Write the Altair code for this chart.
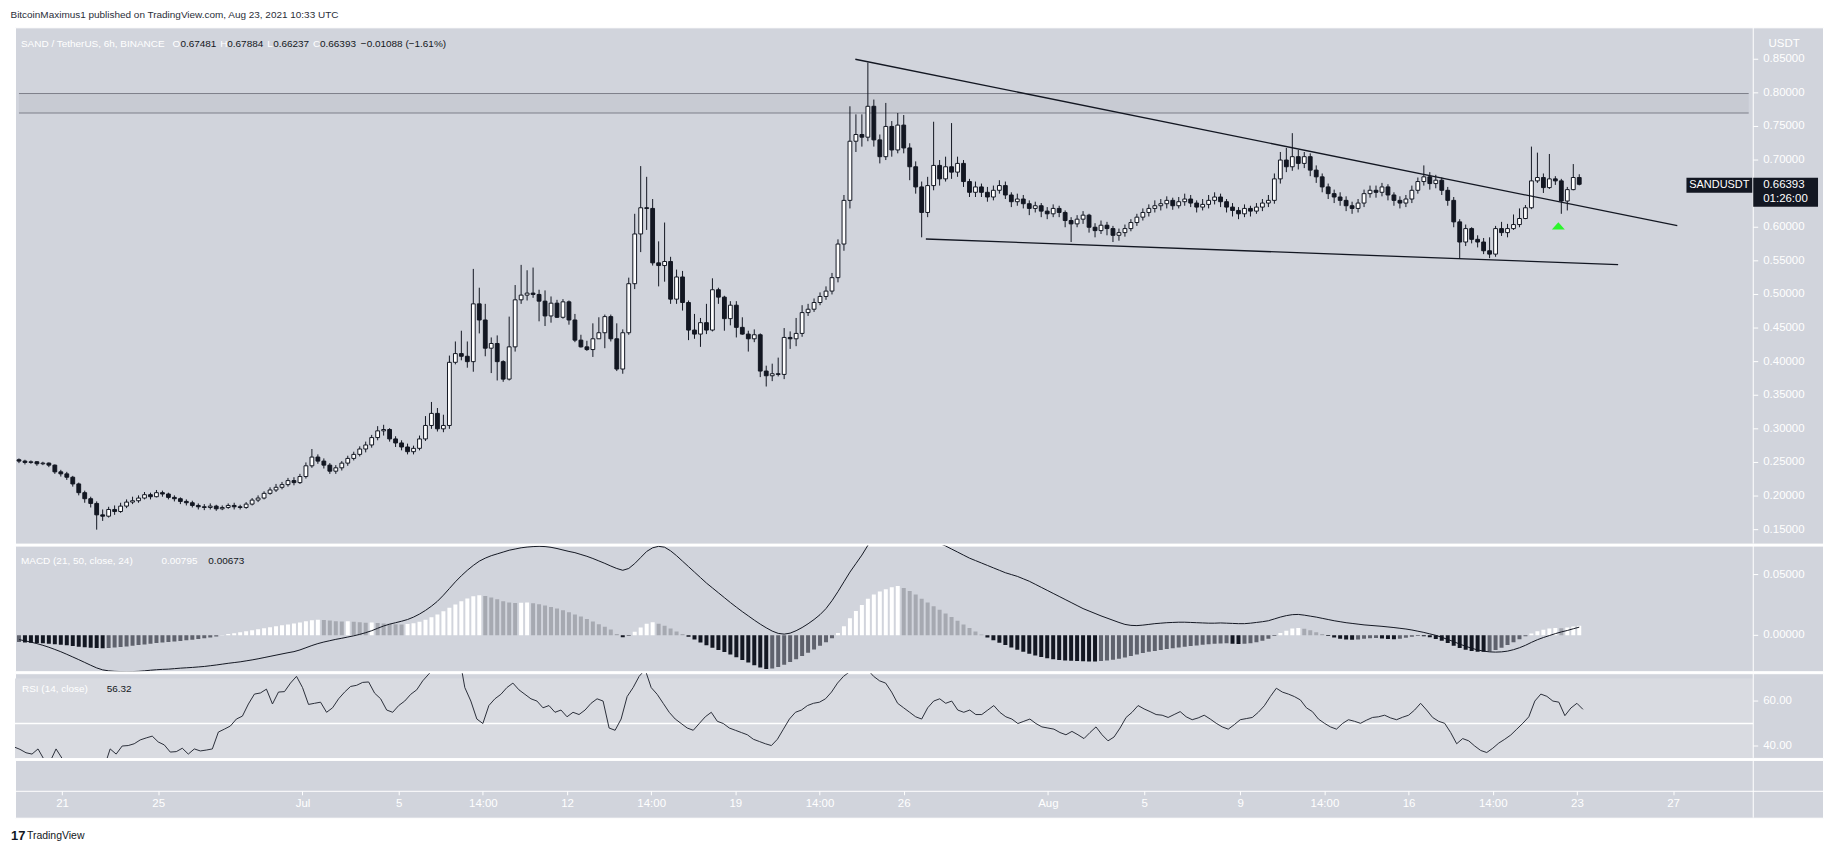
import altair as alt
import pandas as pd

# ---------------- data (6h candles, index 0 = first candle) -------------
first_open = 0.254
close = [
 0.252, 0.250, 0.251, 0.248, 0.249, 0.246, 0.236, 0.233, 0.228, 0.218,
 0.205, 0.196, 0.189, 0.172, 0.170, 0.180, 0.177, 0.185, 0.191, 0.193,
 0.197, 0.202, 0.199, 0.205, 0.203, 0.198, 0.196, 0.192, 0.190, 0.186,
 0.184, 0.183, 0.185, 0.181, 0.183, 0.186, 0.184, 0.183, 0.188, 0.194,
 0.197, 0.204, 0.209, 0.213, 0.217, 0.223, 0.220, 0.229, 0.245, 0.258,
 0.252, 0.246, 0.237, 0.242, 0.249, 0.256, 0.262, 0.270, 0.276, 0.287,
 0.297, 0.299, 0.285, 0.279, 0.273, 0.266, 0.271, 0.285, 0.305, 0.323,
 0.300, 0.305, 0.399, 0.412, 0.408, 0.400, 0.486, 0.462, 0.420, 0.427,
 0.400, 0.374, 0.422, 0.492, 0.499, 0.502, 0.500, 0.490, 0.468, 0.487,
 0.466, 0.489, 0.462, 0.432, 0.422, 0.418, 0.434, 0.443, 0.467, 0.434,
 0.389, 0.443, 0.516, 0.590, 0.629, 0.628, 0.547, 0.543, 0.549, 0.493,
 0.526, 0.488, 0.447, 0.441, 0.458, 0.447, 0.507, 0.496, 0.464, 0.484,
 0.451, 0.441, 0.434, 0.440, 0.386, 0.379, 0.382, 0.381, 0.436, 0.434,
 0.442, 0.473, 0.478, 0.488, 0.497, 0.505, 0.525, 0.575, 0.640, 0.728,
 0.738, 0.734, 0.780, 0.730, 0.705, 0.750, 0.715, 0.752, 0.718, 0.690,
 0.660, 0.622, 0.662, 0.692, 0.672, 0.690, 0.682, 0.695, 0.668, 0.652,
 0.660, 0.652, 0.645, 0.655, 0.662, 0.648, 0.638, 0.642, 0.635, 0.628,
 0.632, 0.624, 0.620, 0.628, 0.622, 0.610, 0.605, 0.612, 0.618, 0.600,
 0.595, 0.603, 0.598, 0.588, 0.592, 0.598, 0.607, 0.615, 0.622, 0.628,
 0.632, 0.635, 0.640, 0.632, 0.638, 0.642, 0.636, 0.630, 0.634, 0.640,
 0.645, 0.638, 0.630, 0.625, 0.620, 0.628, 0.624, 0.630, 0.636, 0.640,
 0.672, 0.700, 0.690, 0.705, 0.695, 0.705, 0.685, 0.675, 0.660, 0.650,
 0.645, 0.640, 0.632, 0.628, 0.636, 0.650, 0.655, 0.652, 0.660, 0.648,
 0.640, 0.636, 0.642, 0.655, 0.668, 0.675, 0.665, 0.670, 0.655, 0.640,
 0.608, 0.578, 0.598, 0.582, 0.578, 0.565, 0.560, 0.598, 0.592, 0.598,
 0.604, 0.613, 0.629, 0.669, 0.674, 0.659, 0.672, 0.669, 0.639, 0.656,
 0.674, 0.66393]
high = [
 0.256, 0.254, 0.253, 0.252, 0.251, 0.250, 0.247, 0.239, 0.236, 0.230,
 0.220, 0.208, 0.199, 0.192, 0.180, 0.184, 0.186, 0.190, 0.195, 0.199,
 0.201, 0.206, 0.205, 0.209, 0.208, 0.205, 0.201, 0.198, 0.195, 0.193,
 0.189, 0.188, 0.189, 0.187, 0.186, 0.189, 0.190, 0.187, 0.191, 0.197,
 0.201, 0.207, 0.213, 0.218, 0.221, 0.227, 0.228, 0.233, 0.250, 0.270,
 0.262, 0.256, 0.249, 0.246, 0.252, 0.260, 0.266, 0.274, 0.281, 0.291,
 0.304, 0.306, 0.301, 0.289, 0.283, 0.278, 0.275, 0.290, 0.319, 0.340,
 0.331, 0.321, 0.409, 0.430, 0.446, 0.430, 0.538, 0.510, 0.486, 0.436,
 0.439, 0.402, 0.467, 0.514, 0.544, 0.536, 0.540, 0.507, 0.506, 0.497,
 0.492, 0.493, 0.491, 0.471, 0.440, 0.431, 0.457, 0.466, 0.470, 0.470,
 0.457, 0.448, 0.525, 0.620, 0.691, 0.675, 0.642, 0.579, 0.607, 0.556,
 0.537, 0.535, 0.491, 0.471, 0.465, 0.486, 0.524, 0.510, 0.498, 0.490,
 0.490, 0.466, 0.446, 0.448, 0.442, 0.394, 0.397, 0.406, 0.450, 0.445,
 0.465, 0.484, 0.486, 0.494, 0.503, 0.512, 0.532, 0.582, 0.648, 0.780,
 0.768, 0.768, 0.845, 0.790, 0.738, 0.785, 0.758, 0.770, 0.767, 0.725,
 0.698, 0.668, 0.675, 0.757, 0.700, 0.705, 0.755, 0.705, 0.700, 0.672,
 0.668, 0.665, 0.660, 0.662, 0.670, 0.668, 0.652, 0.650, 0.648, 0.640,
 0.638, 0.636, 0.630, 0.634, 0.632, 0.625, 0.615, 0.618, 0.624, 0.620,
 0.606, 0.610, 0.608, 0.602, 0.598, 0.604, 0.612, 0.620, 0.628, 0.634,
 0.640, 0.642, 0.646, 0.644, 0.645, 0.650, 0.648, 0.640, 0.642, 0.648,
 0.652, 0.650, 0.642, 0.636, 0.630, 0.634, 0.632, 0.636, 0.642, 0.648,
 0.680, 0.712, 0.718, 0.740, 0.715, 0.712, 0.710, 0.692, 0.680, 0.665,
 0.656, 0.652, 0.646, 0.638, 0.642, 0.656, 0.662, 0.662, 0.666, 0.664,
 0.652, 0.646, 0.648, 0.662, 0.674, 0.692, 0.682, 0.678, 0.674, 0.660,
 0.645, 0.612, 0.604, 0.600, 0.588, 0.584, 0.585, 0.602, 0.608, 0.605,
 0.619, 0.628, 0.633, 0.720, 0.711, 0.680, 0.709, 0.676, 0.672, 0.660,
 0.694, 0.67884]
low = [
 0.249, 0.247, 0.248, 0.245, 0.246, 0.243, 0.233, 0.229, 0.224, 0.214,
 0.201, 0.190, 0.183, 0.150, 0.163, 0.168, 0.172, 0.175, 0.182, 0.188,
 0.190, 0.195, 0.195, 0.198, 0.199, 0.195, 0.192, 0.188, 0.186, 0.183,
 0.180, 0.179, 0.180, 0.178, 0.179, 0.181, 0.180, 0.180, 0.181, 0.186,
 0.191, 0.195, 0.202, 0.206, 0.210, 0.214, 0.216, 0.218, 0.226, 0.242,
 0.248, 0.241, 0.233, 0.233, 0.238, 0.245, 0.253, 0.259, 0.265, 0.272,
 0.283, 0.290, 0.281, 0.273, 0.268, 0.262, 0.262, 0.268, 0.282, 0.300,
 0.296, 0.295, 0.300, 0.396, 0.402, 0.391, 0.385, 0.442, 0.408, 0.383,
 0.372, 0.370, 0.372, 0.415, 0.486, 0.491, 0.495, 0.460, 0.453, 0.458,
 0.465, 0.464, 0.455, 0.429, 0.421, 0.416, 0.407, 0.434, 0.420, 0.430,
 0.386, 0.382, 0.440, 0.508, 0.563, 0.596, 0.543, 0.512, 0.519, 0.486,
 0.486, 0.476, 0.432, 0.434, 0.422, 0.441, 0.445, 0.486, 0.446, 0.454,
 0.436, 0.440, 0.415, 0.429, 0.377, 0.363, 0.371, 0.378, 0.374, 0.419,
 0.423, 0.437, 0.468, 0.474, 0.484, 0.492, 0.500, 0.518, 0.565, 0.628,
 0.712, 0.720, 0.728, 0.720, 0.695, 0.700, 0.705, 0.710, 0.710, 0.670,
 0.650, 0.585, 0.615, 0.655, 0.662, 0.668, 0.672, 0.675, 0.660, 0.645,
 0.645, 0.645, 0.638, 0.640, 0.650, 0.642, 0.630, 0.632, 0.628, 0.618,
 0.622, 0.615, 0.612, 0.615, 0.615, 0.600, 0.578, 0.600, 0.605, 0.592,
 0.585, 0.590, 0.588, 0.578, 0.580, 0.586, 0.594, 0.602, 0.610, 0.616,
 0.622, 0.625, 0.628, 0.626, 0.628, 0.632, 0.630, 0.622, 0.625, 0.628,
 0.634, 0.630, 0.622, 0.616, 0.612, 0.615, 0.616, 0.620, 0.624, 0.630,
 0.635, 0.665, 0.682, 0.684, 0.686, 0.688, 0.676, 0.666, 0.652, 0.642,
 0.636, 0.632, 0.624, 0.620, 0.622, 0.630, 0.644, 0.644, 0.646, 0.640,
 0.632, 0.628, 0.630, 0.636, 0.650, 0.662, 0.656, 0.658, 0.648, 0.632,
 0.600, 0.553, 0.572, 0.576, 0.570, 0.560, 0.554, 0.556, 0.587, 0.585,
 0.596, 0.600, 0.612, 0.627, 0.666, 0.651, 0.657, 0.663, 0.620, 0.625,
 0.655, 0.66237]
# MACD(21,50,24) line and histogram, in thousandths
macd_milli = [
 -3.5, -4.5, -5.6, -6.8, -8.2, -9.8, -11.6, -13.5, -15.6, -17.8, -20.0, -22.3, -24.6, -26.8, -28.4,
 -29.2, -29.6, -29.8, -29.9, -29.8, -29.6, -29.2, -28.7, -28.3, -28.0, -27.8, -27.4, -27.0, -26.7, -26.4,
 -26.0, -25.6, -25.0, -24.4, -23.7, -23.0, -22.4,
 -21.8, -21.0, -20.2, -19.3, -18.3, -17.3, -16.3, -15.3, -14.3, -13.4, -12.0, -10.2, -8.4, -6.8, -5.5,
 -4.4, -3.3, -2.4, -1.4, -0.4,
 0.8, 2.2, 3.8, 5.8, 7.7, 9.2, 10.4, 11.6, 13.0, 15.0,
 17.5, 20.5, 24.0, 28.0, 33.0, 38.5, 44.0, 49.0, 53.5, 57.5,
 61.0, 63.5, 65.5, 67.0, 68.5, 70.0, 71.0, 72.0, 72.6, 73.0, 73.2, 73.0, 72.4, 71.4,
 70.2, 69.0, 68.0, 66.5, 65.0, 63.2, 61.2, 59.2, 57.0, 55.0, 53.5,
 55.0, 59.0, 64.0, 69.0, 72.0, 73.2, 72.5, 69.5, 65.5, 61.0,
 56.5, 52.0, 47.5, 43.0, 39.0, 35.0, 31.0, 27.0, 23.2, 19.5, 16.0, 12.5, 9.2, 6.2, 3.5, 1.6, 1.0,
 1.8, 3.8, 6.4, 9.5, 13.0, 17.0, 22.0, 28.5, 36.0, 44.0, 52.0, 59.0, 66.0, 74.0,
 79.0, 82.0, 84.5, 86.0, 87.0, 87.0, 86.0, 84.5, 82.0, 79.5, 77.5, 75.5, 73.5, 71.0, 68.5, 66.0, 63.5, 61.5,
 59.5, 57.5, 55.5, 53.5, 51.5, 50.0, 48.5, 46.5, 44.5, 42.0, 39.5, 37.0, 34.5, 32.0, 29.5, 27.0, 24.5,
 22.0, 20.0, 18.0, 16.0, 14.2, 12.4, 10.6, 9.0,
 8.2, 8.0, 8.4, 9.0, 9.6, 10.0, 10.4, 10.6, 10.8, 10.8, 10.6, 10.4, 10.2, 10.0, 10.0, 10.2, 10.0, 9.8,
 9.6, 9.6, 10.0, 10.6, 11.2, 12.0,
 13.5, 15.0, 16.2, 17.0, 17.2, 16.6, 15.8, 15.0, 14.0, 13.0, 12.0, 11.2, 10.4, 9.8, 9.2, 8.6, 8.2, 7.8,
 7.4, 6.9, 6.4, 5.8, 5.2, 4.4, 3.4, 2.4, 1.2,
 0.0, -1.6, -3.4, -5.2, -7.2, -9.0, -10.6, -12.0, -13.0, -13.6, -13.8, -13.6, -13.0, -11.8, -10.2, -8.2,
 -5.8, -3.6, -1.8, -0.2, 1.4, 2.8, 4.0, 5.4, 6.73]
hist_milli = [
 -5.5, -5.8, -6.0, -6.3, -6.5, -6.9, -7.4, -7.8, -8.2, -8.8, -9.3, -9.8, -10.2, -10.5, -10.6,
 -10.4, -10.0, -9.6, -9.1, -8.6, -8.0, -7.5, -7.0, -6.4, -5.9, -5.4, -5.0, -4.6, -4.1, -3.6, -3.0, -2.4, -1.7,
 -0.9, 0.2, 1.0, 1.8, 2.6, 3.4, 4.2, 5.0, 5.8, 6.6, 7.4, 8.2, 9.0, 9.8, 10.6, 11.6, 12.4, 12.8,
 12.6, 12.2, 11.6, 11.4, 11.6, 11.2, 10.8, 10.4, 10.6, 10.2, 9.8, 9.6, 9.2, 9.0, 9.4,
 10.0, 11.2, 12.8, 14.8, 17.2, 19.8, 22.6, 25.4, 28.0, 30.4, 32.2, 33.0,
 32.4, 31.2, 29.6, 28.0, 27.0, 26.6, 26.8, 27.0, 26.4, 25.6, 24.6, 23.4, 22.0, 20.6, 19.0, 17.2, 15.4,
 13.4, 11.4, 9.2, 7.0, 4.8,
 1.2, -1.6, -0.6,
 3.0, 6.5, 9.5, 10.8,
 9.6, 7.8, 5.6, 3.2, 1.0,
 -1.2, -3.4, -5.8, -8.2, -10.2, -12.0, -13.8, -15.8, -18.0, -20.2, -22.4, -24.6, -26.4, -27.6,
 -27.2, -26.0, -24.2, -22.0, -19.6, -17.0, -14.4, -11.6, -8.6, -5.6, -2.4,
 2.0, 7.5, 14.0, 20.0, 25.0, 30.0, 33.5, 36.0, 38.0, 39.5, 40.5,
 39.0, 36.5, 33.5, 30.0, 27.0, 24.0, 21.0, 18.0, 15.0, 12.0, 9.0, 6.0, 3.2,
 0.6, -1.8, -4.0, -6.0, -8.0, -10.0, -11.8, -13.6, -15.2, -16.6, -17.8, -18.8, -19.6, -20.2, -20.6,
 -21.0, -21.2, -21.4, -21.5, -21.6,
 -21.2, -20.6, -20.0, -19.2, -18.2, -17.0, -15.8, -14.6, -13.6, -12.8, -12.0, -11.2, -10.6, -10.0, -9.4,
 -8.8, -8.3, -7.8, -7.4, -7.0, -6.8, -6.6, -6.9, -7.2, -7.0, -6.5, -5.6, -4.4, -2.8,
 -0.6, 2.0, 3.8, 5.6, 6.0, 5.4, 4.2, 2.6,
 1.0, -0.6, -1.8, -2.8, -3.4, -3.6, -3.4, -2.8, -2.4, -2.2, -2.6, -3.0, -3.2, -2.8, -2.0, -1.2, -0.6, -0.8, -1.6,
 -3.0, -4.4, -6.4, -8.6, -10.4, -11.8, -12.8, -13.4, -13.6, -13.2, -12.0, -10.2, -8.0,
 -5.6, -3.2, -0.8, 1.6, 3.4, 4.6, 5.6, 6.0, 5.8, 6.4, 7.2, 7.95]
rsi_vals = [
 39.6, 38.5, 37.0, 36.4, 38.7, 34.0, 33.0, 38.7, 34.5, 30.0, 27.0, 25.0, 23.0, 19.5, 18.5, 30.5,
 38.7, 36.4, 40.0, 40.2, 41.0, 42.7, 43.6, 44.4, 41.8, 40.5, 37.3, 37.5, 39.0, 36.4, 38.7, 37.8, 38.2, 38.7,
 46.2, 47.5, 48.9, 52.0, 53.3, 58.7, 63.1, 63.6, 65.3, 58.7, 64.0, 64.2, 68.0,
 71.0, 66.0, 58.5, 59.0, 59.5, 55.0, 57.0, 61.0, 64.0, 66.5, 67.0, 68.3, 68.5, 63.5,
 61, 56, 55, 58, 60, 63, 65, 69, 72, 75, 77, 79, 80, 81, 66, 60, 52, 50, 58, 61,
 63, 66, 68, 65, 63, 61, 60, 57, 58, 55, 56, 53, 55, 54, 56, 59, 61, 60, 48, 47,
 52, 62, 66, 71, 74, 66, 63, 59, 55, 52, 50, 48, 47, 50, 53, 55, 51, 50, 48, 47,
 46, 45, 43, 42, 41, 40.2, 43, 47.5, 52, 55, 56, 58, 59, 59.5, 61, 64, 68, 71, 73, 74,
 73.5, 74, 71, 69, 68, 64, 59, 57, 55, 53, 52, 57, 60, 61, 59, 60, 56, 55, 56, 54,
 54, 56, 58, 55, 53, 52, 50, 51, 52, 50, 48.5, 48, 47.5, 46, 45, 46.5, 45, 43.3, 46, 48.5,
 45, 42.3, 44, 48, 52.7, 55, 58, 56.5, 55.3, 54, 53.7, 52.7, 54, 55.3, 53, 51.7, 52.5, 53.7, 52, 50.1,
 48.5, 47.5, 49.5, 51.7, 52.2, 52.7, 55, 57.9, 62, 65.7, 64, 63.1, 62, 60.5, 57, 55.3, 52, 50.1, 48.5, 47.5,
 50, 51.7, 51, 50.1, 51.5, 52.7, 53, 53.7, 52.5, 51.7, 52.8, 53.7, 56, 59, 56, 52.7, 51, 50.1, 46, 41,
 43.3, 42.3, 40, 38, 37.1, 39, 41.3, 43, 44.9, 47.5, 50.1, 53, 60, 63.1, 62.1, 60, 59.5, 53.5, 56.9, 59, 56.32]

x_tick_idx = [8, 24, 48, 64, 78, 92, 106, 120, 134, 148, 172, 188, 204, 218, 232, 246, 260, 276]
x_tick_txt = ["21", "25", "Jul", "5", "14:00", "12", "14:00", "19", "14:00", "26",
              "Aug", "5", "9", "14:00", "16", "14:00", "23", "27"]
price_ticks = [0.15, 0.20, 0.25, 0.30, 0.35, 0.40, 0.45, 0.50, 0.55, 0.60, 0.70, 0.75, 0.80, 0.85]
macd_ticks = [0.0, 0.05]
rsi_ticks = [40, 60]

# drawings on the chart (candle index, price)
trend_line = ["upper", "upper", "lower", "lower"]
trend_i = [139.9, 277.4, 151.7, 267.5]
trend_p = [0.850, 0.6023, 0.5825, 0.5445]
zone_i = [0, 289.34]
zone_p = [0.770, 0.799]
arrow_i = [257.5]
arrow_p = [0.602]
last_price = [0.66393]

for arr in (close, high, low, macd_milli, hist_milli, rsi_vals):
    assert len(arr) == len(close), len(arr)

# ---------------- frame -------------
FONT = "Liberation Sans"
BG = "#d1d4dc"
INK = "#131722"
WHITE = "#ffffff"
W = 1814
H1, H2, H3, H4 = 518, 126, 85, 58
AX_X = 1744

n = len(close)
opens = [first_open] + close[:-1]
hist = [v / 1000 for v in hist_milli]
prev = [hist[0]] + hist[:-1]
state = []
for h, p in zip(hist, prev):
    if h >= 0:
        state.append("pos_up" if h >= p else "pos_dn")
    else:
        state.append("neg_dn" if h < p else "neg_up")

df = pd.DataFrame({
    "i": list(range(n)), "open": opens, "high": high, "low": low, "close": close,
    "macd": [v / 1000 for v in macd_milli], "hist": hist, "rsi": rsi_vals, "hstate": state,
})
df["dir"] = ["up" if c >= o else "down" for o, c in zip(df["open"], df["close"])]
df["zero"] = 0.0

xs = alt.Scale(domain=[0.166, 300.94], nice=False, zero=False)
X = alt.X("i:Q", scale=xs, axis=None)
one = pd.DataFrame({"k": [0]})


def txt(s, x, y, color, size=10, align="left", weight="normal"):
    return alt.Chart(one).mark_text(text=s, align=align, baseline="middle", fontSize=size,
                                    color=color, font=FONT, fontWeight=weight).encode(
        x=alt.value(x), y=alt.value(y))


def price_scale(values, fmt, ys, h):
    """right-hand scale: separator line, ticks and labels placed through the pane's y scale"""
    tdf = pd.DataFrame({"v": values, "lbl": [format(v, fmt) for v in values]})
    sep = alt.Chart(one).mark_rule(color=WHITE, strokeWidth=1).encode(
        x=alt.value(AX_X), y=alt.value(0), y2=alt.value(h))
    ticks = alt.Chart(tdf).mark_rule(color=WHITE, strokeWidth=1).encode(
        x=alt.value(AX_X), x2=alt.value(AX_X + 5), y=alt.Y("v:Q", scale=ys, axis=None))
    labels = alt.Chart(tdf).mark_text(align="left", baseline="middle", fontSize=11.5,
                                      color=WHITE, font=FONT).encode(
        x=alt.value(AX_X + 10), y=alt.Y("v:Q", scale=ys, axis=None), text="lbl:N")
    return [sep, ticks, labels]


base = alt.Chart(df)

# ---------------- price pane -------------
ys_p = alt.Scale(domain=[0.1292, 0.8975], nice=False, zero=False)
zone_df = pd.DataFrame({"i1": [zone_i[0]], "i2": [zone_i[1]], "p1": [zone_p[0]], "p2": [zone_p[1]]})
zone_fill = alt.Chart(zone_df).mark_rect(color="#c8cbd3").encode(
    x=alt.X("i1:Q", scale=xs, axis=None), x2="i2:Q",
    y=alt.Y("p1:Q", scale=ys_p, axis=None), y2="p2:Q")
zl_df = pd.DataFrame({"i1": [zone_i[0]] * 2, "i2": [zone_i[1]] * 2, "p": zone_p})
zone_lines = alt.Chart(zl_df).mark_rule(color="#7d808a", strokeWidth=1).encode(
    x=alt.X("i1:Q", scale=xs, axis=None), x2="i2:Q", y=alt.Y("p:Q", scale=ys_p, axis=None))

trend_df = pd.DataFrame({"line": trend_line, "i": trend_i, "p": trend_p})
trends = alt.Chart(trend_df).mark_line(color=INK, strokeWidth=1.3).encode(
    x=X, y=alt.Y("p:Q", scale=ys_p, axis=None), detail="line:N")

wicks = base.mark_rule(color=INK, strokeWidth=1).encode(
    x=X, y=alt.Y("low:Q", scale=ys_p, axis=None), y2="high:Q")
bodies = base.mark_bar(size=3.8, stroke=INK, strokeWidth=1).encode(
    x=X, y=alt.Y("open:Q", scale=ys_p, axis=None), y2="close:Q",
    fill=alt.Fill("dir:N", scale=alt.Scale(domain=["up", "down"], range=[WHITE, INK]), legend=None))

arrow_df = pd.DataFrame({"i": arrow_i, "p": arrow_p})
arrow = alt.Chart(arrow_df).mark_point(shape="M-1,0.55L1,0.55L0,-0.55Z", size=169, filled=True,
                                       color="#2cf52c", opacity=1, strokeWidth=0).encode(
    x=X, y=alt.Y("p:Q", scale=ys_p, axis=None))

lp_df = pd.DataFrame({"p": last_price})
PY = alt.Y("p:Q", scale=ys_p, axis=None)
tag_box = alt.Chart(lp_df).mark_rect(color=INK, yOffset=-6.5, y2Offset=8.5).encode(
    x=alt.value(1677), x2=alt.value(AX_X - 1), y=PY, y2="p:Q")
tag_txt = alt.Chart(lp_df).mark_text(text="SANDUSDT", align="center", baseline="middle", fontSize=11,
                                     color=WHITE, font=FONT, dy=1).encode(x=alt.value(1710), y=PY)
px_box = alt.Chart(lp_df).mark_rect(color=INK, yOffset=-6.5, y2Offset=22.5).encode(
    x=alt.value(AX_X), x2=alt.value(1809), y=PY, y2="p:Q")
px_txt = alt.Chart(lp_df).mark_text(align="left", baseline="middle", fontSize=11.5, color=WHITE,
                                    font=FONT, dy=1).encode(
    x=alt.value(AX_X + 10), y=PY, text=alt.Text("p:Q", format=".5f"))
cd_txt = alt.Chart(lp_df).mark_text(text="01:26:00", align="left", baseline="middle", fontSize=11.5,
                                    color=WHITE, font=FONT, dy=15).encode(x=alt.value(AX_X + 10), y=PY)

legend_top = [
    txt("SAND / TetherUS, 6h, BINANCE", 6, 17, WHITE),
    txt("O", 158, 17, WHITE), txt("0.67481", 166, 17, INK),
    txt("H", 206, 17, WHITE), txt("0.67884", 213, 17, INK),
    txt("L", 253, 17, WHITE), txt("0.66237", 259, 17, INK),
    txt("C", 299, 17, WHITE), txt("0.66393", 306, 17, INK),
    txt("\u22120.01088 (\u22121.61%)", 347, 17, INK),
]

price = alt.layer(zone_fill, zone_lines, wicks, bodies, trends, arrow,
                  *price_scale(price_ticks, ".5f", ys_p, H1),
                  txt("USDT", AX_X + 31, 17, WHITE, size=11.5, align="center"),
                  tag_box, tag_txt, px_box, px_txt, cd_txt, *legend_top).properties(width=W, height=H1)

# ---------------- MACD pane -------------
ys_m = alt.Scale(domain=[-0.0295, 0.0738], nice=False, zero=False)
hist_bars = base.mark_bar(size=4, clip=True).encode(
    x=X, y=alt.Y("hist:Q", scale=ys_m, axis=None), y2="zero:Q",
    color=alt.Color("hstate:N", scale=alt.Scale(domain=["pos_up", "pos_dn", "neg_dn", "neg_up"],
                                                range=[WHITE, "#a6a9b1", INK, "#5f626d"]), legend=None))
macd_line = base.mark_line(color=INK, strokeWidth=1, clip=True).encode(
    x=X, y=alt.Y("macd:Q", scale=ys_m, axis=None))
macd = alt.layer(hist_bars, macd_line, *price_scale(macd_ticks, ".5f", ys_m, H2),
                 txt("MACD (21, 50, close, 24)", 6, 15, WHITE),
                 txt("0.00795", 147, 15, WHITE), txt("0.00673", 194, 15, INK)
                 ).properties(width=W, height=H2)

# ---------------- RSI pane -------------
ys_r = alt.Scale(domain=[34.7, 72.4], nice=False, zero=False)
band = alt.Chart(pd.DataFrame({"top": [70], "bot": [30]})).mark_rect(color="#d9dbe1", clip=True).encode(
    x=alt.value(0), x2=alt.value(AX_X), y=alt.Y("top:Q", scale=ys_r, axis=None), y2="bot:Q")
mid = alt.Chart(pd.DataFrame({"m": [50]})).mark_rule(color=WHITE, strokeWidth=1.5).encode(
    x=alt.value(0), x2=alt.value(AX_X), y=alt.Y("m:Q", scale=ys_r, axis=None))
rsi_line = base.mark_line(color="#2a2e39", strokeWidth=1, clip=True).encode(
    x=X, y=alt.Y("rsi:Q", scale=ys_r, axis=None))
rsi_p = alt.layer(band, mid, rsi_line, *price_scale(rsi_ticks, ".2f", ys_r, H3),
                  txt("RSI (14, close)", 7, 16, WHITE), txt("56.32", 92, 16, INK)
                  ).properties(width=W, height=H3)

# ---------------- time axis strip + footer -------------
expr = " : ".join(f"datum.value == {v} ? '{t}'" for v, t in zip(x_tick_idx, x_tick_txt)) + " : ''"
xaxis = alt.Axis(orient="bottom", offset=-27, values=x_tick_idx, labelExpr=expr,
                 domain=True, domainColor=WHITE, domainWidth=1, ticks=True, tickColor=WHITE,
                 tickSize=4, labelColor=WHITE, labelFont=FONT, labelFontSize=11.5, labelPadding=3,
                 labelFlush=False, labelOverlap=False, grid=False, title=None, zindex=1)
axis_holder = base.mark_point(opacity=0).encode(x=alt.X("i:Q", scale=xs, axis=xaxis))
vline = alt.Chart(one).mark_rule(color=WHITE, strokeWidth=1).encode(
    x=alt.value(AX_X), y=alt.value(0), y2=alt.value(H4))
bottom = alt.layer(axis_holder, vline,
                   txt("17", -4, 76, INK, size=13, weight="bold"),
                   txt("TradingView", 12, 76, INK, size=10.5)
                   ).properties(width=W, height=H4)

chart = alt.vconcat(price, macd, rsi_p, bottom, spacing=0).properties(
    title=alt.TitleParams("BitcoinMaximus1 published on TradingView.com, Aug 23, 2021 10:33 UTC",
                          anchor="start", fontSize=10, font=FONT, color="#2a2e39",
                          fontWeight="normal", offset=6),
    padding={"left": 2, "top": 1, "right": 2, "bottom": 4},
).configure(background=WHITE).configure_view(fill=BG, stroke=WHITE, strokeWidth=1)

chart.save("out.html", embed_options={"renderer": "svg", "actions": False})
